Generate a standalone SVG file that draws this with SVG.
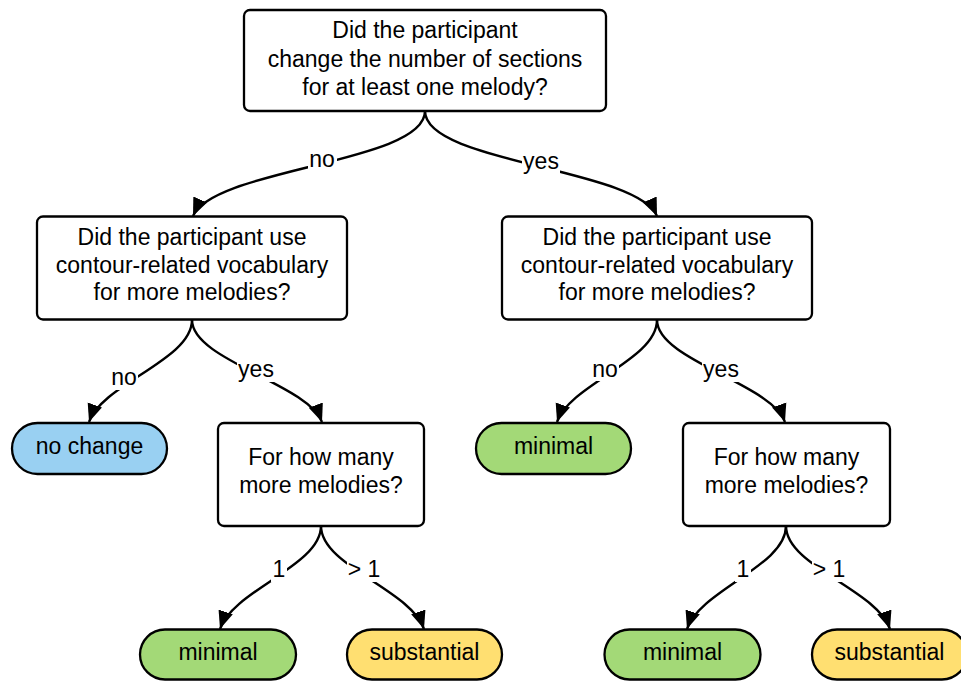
<svg xmlns="http://www.w3.org/2000/svg" width="961" height="681" viewBox="0 0 961 681">
<style>
.box{fill:#fff;stroke:#000;stroke-width:2.3}
.blue{fill:#99d0f2;stroke:#000;stroke-width:2.3}
.green{fill:#a3d977;stroke:#000;stroke-width:2.3}
.yellow{fill:#ffdf71;stroke:#000;stroke-width:2.3}
text{font-family:"Liberation Sans",Arial,sans-serif;font-size:23px;fill:#000;text-anchor:middle}
.edge{fill:none;stroke:#000;stroke-width:2.4}
.lblbg{fill:#fff;stroke:none}
</style>
<defs>
<marker id="arrow" markerWidth="20" markerHeight="18" refX="18" refY="9" orient="auto" markerUnits="userSpaceOnUse">
<path d="M0,1.5 L18,9 L0,16.5 Z" fill="#000"/>
</marker>
</defs>
<g id="connectors">
<path class="edge" d="M425,111 C425,163 214,168 193,216" marker-end="url(#arrow)"/>
<path class="edge" d="M425,111 C425,163 636,168 657,216" marker-end="url(#arrow)"/>
<path class="edge" d="M192,320 C192,360 102,384 89,422" marker-end="url(#arrow)"/>
<path class="edge" d="M192,320 C192,360 308,384 322,422" marker-end="url(#arrow)"/>
<path class="edge" d="M657,320 C657,360 570,384 557,422" marker-end="url(#arrow)"/>
<path class="edge" d="M657,320 C657,360 772,384 785,422" marker-end="url(#arrow)"/>
<path class="edge" d="M321,526 C321,566 233,590 220,629" marker-end="url(#arrow)"/>
<path class="edge" d="M321,526 C321,566 411,590 424,629" marker-end="url(#arrow)"/>
<path class="edge" d="M786,526 C786,566 700,590 687,629" marker-end="url(#arrow)"/>
<path class="edge" d="M786,526 C786,566 877,590 890,629" marker-end="url(#arrow)"/>
<rect class="lblbg" x="308" y="150" width="29" height="22"/>
<text x="322" y="167">no</text>
<rect class="lblbg" x="522" y="151" width="38" height="24"/>
<text x="541" y="169">yes</text>
<rect class="lblbg" x="110" y="366" width="28" height="24"/>
<text x="124" y="385">no</text>
<rect class="lblbg" x="237" y="358" width="38" height="24"/>
<text x="256" y="377">yes</text>
<rect class="lblbg" x="591" y="357" width="28" height="24"/>
<text x="605" y="376.5">no</text>
<rect class="lblbg" x="702" y="358" width="38" height="24"/>
<text x="721" y="377">yes</text>
<rect class="lblbg" x="271" y="558" width="16" height="24"/>
<text x="279" y="577">1</text>
<rect class="lblbg" x="347" y="558" width="34" height="24"/>
<text x="364" y="577">&gt; 1</text>
<rect class="lblbg" x="735" y="558" width="16" height="24"/>
<text x="743" y="577">1</text>
<rect class="lblbg" x="812" y="558" width="34" height="24"/>
<text x="829" y="577">&gt; 1</text>
</g>
<g id="q1">
<rect class="box" x="244" y="10" width="362" height="101" rx="6"/>
<text x="425" y="38">Did the participant</text>
<text x="425" y="66.5">change the number of sections</text>
<text x="425" y="95">for at least one melody?</text>
</g>
<g id="q2-left">
<rect class="box" x="37" y="216.5" width="310" height="103" rx="6"/>
<text x="192" y="245">Did the participant use</text>
<text x="192" y="272.5">contour-related vocabulary</text>
<text x="192" y="300">for more melodies?</text>
</g>
<g id="q2-right">
<rect class="box" x="502" y="216.5" width="310" height="103" rx="6"/>
<text x="657" y="245">Did the participant use</text>
<text x="657" y="272.5">contour-related vocabulary</text>
<text x="657" y="300">for more melodies?</text>
</g>
<g id="nochange">
<rect class="blue" x="12" y="423" width="155" height="51" rx="25.5"/>
<text x="89.5" y="454">no change</text>
</g>
<g id="q3-left">
<rect class="box" x="218" y="423" width="206" height="103" rx="6"/>
<text x="321" y="465">For how many</text>
<text x="321" y="493">more melodies?</text>
</g>
<g id="minimal-mid">
<rect class="green" x="476" y="423" width="155" height="51" rx="25.5"/>
<text x="553.5" y="454">minimal</text>
</g>
<g id="q3-right">
<rect class="box" x="683" y="423" width="207" height="103" rx="6"/>
<text x="786.5" y="465">For how many</text>
<text x="786.5" y="493">more melodies?</text>
</g>
<g id="minimal-left">
<rect class="green" x="140" y="629.5" width="156" height="50" rx="25"/>
<text x="218" y="660">minimal</text>
</g>
<g id="substantial-left">
<rect class="yellow" x="347" y="629.5" width="155" height="50" rx="25"/>
<text x="424.5" y="660">substantial</text>
</g>
<g id="minimal-right">
<rect class="green" x="604.5" y="629.5" width="156" height="50" rx="25"/>
<text x="682.5" y="660">minimal</text>
</g>
<g id="substantial-right">
<rect class="yellow" x="812" y="629.5" width="155" height="50" rx="25"/>
<text x="889.5" y="660">substantial</text>
</g>
</svg>
